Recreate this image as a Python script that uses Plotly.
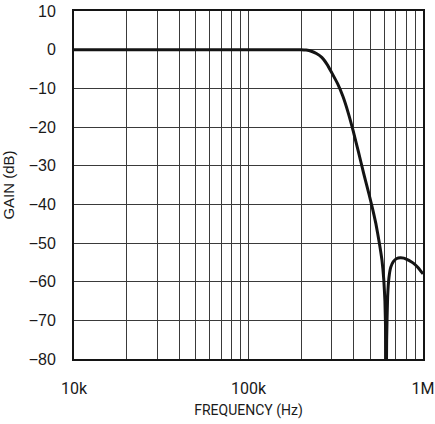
import plotly.graph_objects as go

# Frequency response (Hz, dB)
freq_hz = [10000, 50000, 100000, 150000, 200000, 214000, 229000, 245000, 263000,
           282000, 302000, 324000, 347000, 372000, 398000, 427000, 457000, 490000,
           513000, 537000, 562000, 582000, 596000, 605000, 612000, 615000, 619000,
           627000, 638000, 653000, 676000, 708000, 741000, 776000, 813000, 851000,
           891000, 933000, 1000000]
gain_db = [0, 0, 0, 0, 0, -0.1, -0.4, -1.0, -2.0,
           -3.8, -6.2, -8.8, -12.0, -16.2, -21.0, -26.5, -32.0, -37.3,
           -41.0, -45.0, -50.0, -54.5, -59.5, -65, -75, -95, -75,
           -64, -59, -56.3, -54.8, -54.0, -53.8, -53.9, -54.3, -54.8,
           -55.4, -56.3, -58]

x_tick_vals = [1e4, 1e5, 1e6]
x_tick_text = ['10k', '100k', '1M']
x_minor_vals = [m * 10 ** e for e in (4, 5) for m in range(2, 10)]

grid_color = '#3a3a3a'

fig = go.Figure(go.Scatter(
    x=freq_hz,
    y=gain_db,
    mode='lines',
    line=dict(color='#141414', width=3, shape='spline', smoothing=0.4),
    showlegend=False,
    hoverinfo='skip'
))

fig.update_layout(
    width=435,
    height=424,
    margin=dict(l=74, r=12, t=11, b=65, autoexpand=False),
    paper_bgcolor='white',
    plot_bgcolor='white',
    font=dict(family='Liberation Sans, Arial, sans-serif', color='#1a1a1a'),
)

fig.update_xaxes(
    type='log',
    range=[4, 6],
    automargin=False,
    tickvals=x_tick_vals,
    ticktext=x_tick_text,
    tickfont=dict(family='Roboto', size=16, color='#1a1a1a'),
    ticks='',
    ticklabelstandoff=14,
    showgrid=True,
    gridcolor=grid_color,
    gridwidth=1.2,
    minor=dict(tickvals=x_minor_vals, showgrid=True, gridcolor=grid_color, gridwidth=1.2),
    showline=True,
    mirror=True,
    linecolor='#141414',
    linewidth=2,
    title=dict(text='FREQUENCY (Hz)', font=dict(family='Roboto', size=14, color='#1a1a1a'), standoff=8),
)

fig.update_yaxes(
    range=[-80, 10],
    automargin=False,
    dtick=10,
    tick0=0,
    tickfont=dict(size=16, color='#1a1a1a'),
    ticks='',
    ticklabelstandoff=13,
    showgrid=True,
    gridcolor=grid_color,
    gridwidth=1.2,
    zeroline=False,
    showline=True,
    mirror=True,
    linecolor='#141414',
    linewidth=2,
    title=dict(text='GAIN (dB)', font=dict(size=15, color='#1a1a1a'), standoff=10),
)

# drop the default 8px body margin so the figure sits at the window corner
fig.write_html('out.html', config={'displayModeBar': False},
               post_script="document.body.style.margin = '0';")
